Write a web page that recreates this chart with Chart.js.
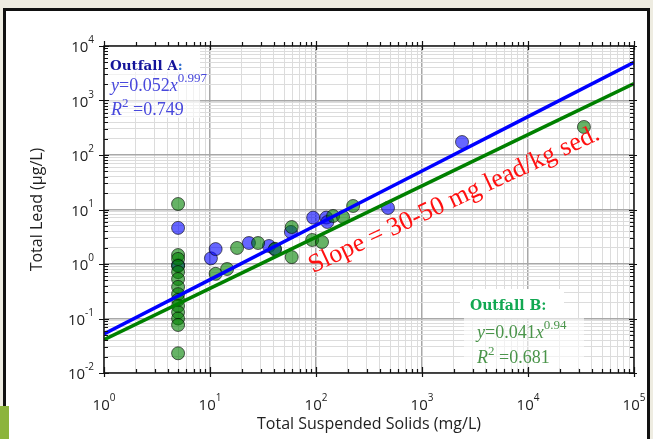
<!DOCTYPE html>
<html>
<head>
<meta charset="utf-8">
<script src="https://cdn.jsdelivr.net/npm/chart.js@4/dist/chart.umd.min.js"></script>
<style>
  html, body { margin: 0; padding: 0; background: #eeece1; overflow: hidden; }
  #wrap { position: relative; width: 653px; height: 439px; }
  #panel { position: absolute; left: 3px; top: 8px; width: 641px; height: 440px; background: #fff; border: 3px solid #111; }
  #accent { position: absolute; left: 0; top: 406px; width: 9px; height: 33px; background: #8cb43c; }
  canvas { position: absolute; left: 0; top: 0; }
</style>
</head>
<body>
<div id="wrap">
  <div id="panel"></div>
  <canvas id="c" width="653" height="439"></canvas>
  <div id="accent"></div>
</div>
<script>
// Outfall A: total suspended solids (mg/L) and total lead (µg/L)
const tssA  = [5, 5, 10.2, 11.3, 23.3, 36, 41, 58, 94, 125, 128, 478, 2385];
const leadA = [4.6, 0.95, 1.27, 1.88, 2.43, 2.14, 1.85, 3.87, 7.1, 7.1, 5.9, 10.7, 173];

// Outfall B
const tssB  = [5, 5, 5, 5, 5, 5, 5, 5, 5, 5, 5, 5, 5, 5,
               11.3, 14.5, 18, 28.4, 41, 59, 59, 92, 114, 145, 180, 224, 33700];
const leadB = [12.6, 1.46, 1.24, 0.92, 0.71, 0.53, 0.38, 0.28, 0.22, 0.17, 0.13, 0.10, 0.076, 0.023,
               0.66, 0.81, 1.97, 2.43, 1.9, 1.34, 4.77, 2.76, 2.53, 7.6, 7.3, 11.6, 327];

// Power-law fits  y = a * x^b
const fitA = { a: 0.052, b: 0.997, r2: '0.749' };
const fitB = { a: 0.041, b: 0.94,  r2: '0.681' };

// Axis decades (tick labels are 10^n)
const xDecades = [0, 1, 2, 3, 4, 5];
const yDecades = [-2, -1, 0, 1, 2, 3, 4];

function logGrid(decades) {
  const out = [];
  for (let i = 0; i < decades.length; i++) {
    const base = Math.pow(10, decades[i]);
    out.push({ value: base, major: true, exp: decades[i] });
    if (i < decades.length - 1) {
      for (let m = 2; m <= 9; m++) out.push({ value: m * base, major: false });
    }
  }
  return out;
}

const fitX = xDecades.map(d => Math.pow(10, d));
const lineA = fitX.map(x => ({ x, y: fitA.a * Math.pow(x, fitA.b) }));
const lineB = fitX.map(x => ({ x, y: fitB.a * Math.pow(x, fitB.b) }));

const SERIF = '"Liberation Serif", "Times New Roman", serif';
const SANS = '"Open Sans", "DejaVu Sans", sans-serif';

function drawRuns(ctx, x, y, runs) {
  let cx = x;
  for (const [t, font, dy] of runs) {
    ctx.font = font;
    ctx.fillText(t, cx, y + dy);
    cx += ctx.measureText(t).width;
  }
  return cx;
}

function eqRuns(fit) {
  const n = '18px ' + SERIF, it = 'italic 18px ' + SERIF, sm = '13px ' + SERIF;
  return [
    [['y', it, 0], ['=' + fit.a, n, 0], ['x', it, 0], [String(fit.b), sm, -9]],
    [['R', it, 0], ['2', sm, -8], [' =' + fit.r2, n, 0]]
  ];
}

const decor = {
  id: 'decor',
  beforeDatasetsDraw(chart) {
    const { ctx, chartArea: a } = chart;
    ctx.save();
    // label backgrounds
    ctx.fillStyle = '#ffffff';
    ctx.fillRect(a.left + 1, a.top + 1, 95, 25);
    ctx.fillStyle = 'rgba(255,255,255,0.6)';
    ctx.fillRect(a.left + 1, a.top + 26, 95, 46);
    ctx.fillStyle = '#ffffff';
    ctx.fillRect(a.left + 356, a.top + 243, 104, 29);
    ctx.fillStyle = 'rgba(255,255,255,0.6)';
    ctx.fillRect(a.left + 360, a.top + 272, 120, 50);
    ctx.restore();
  },
  afterDraw(chart) {
    const { ctx, chartArea: a, scales: { x, y } } = chart;
    ctx.save();

    // frame
    ctx.strokeStyle = '#111';
    ctx.lineWidth = 1.4;
    ctx.strokeRect(a.left, a.top, a.right - a.left, a.bottom - a.top);

    // tick marks
    ctx.lineWidth = 1.2;
    ctx.beginPath();
    x.ticks.forEach(t => {
      const px = Math.round(x.getPixelForValue(t.value)) + 0.5;
      if (t.major) {
        ctx.moveTo(px, a.bottom + 4); ctx.lineTo(px, a.bottom - 6);
        ctx.moveTo(px, a.top - 5); ctx.lineTo(px, a.top + 4);
      } else {
        ctx.moveTo(px, a.bottom); ctx.lineTo(px, a.bottom - 4);
        ctx.moveTo(px, a.top); ctx.lineTo(px, a.top - 4);
      }
    });
    y.ticks.forEach(t => {
      const py = Math.round(y.getPixelForValue(t.value)) + 0.5;
      if (t.major) {
        ctx.moveTo(a.left - 5, py); ctx.lineTo(a.left + 5, py);
        ctx.moveTo(a.right - 5, py); ctx.lineTo(a.right + 3, py);
      } else {
        ctx.moveTo(a.left, py); ctx.lineTo(a.left + 4, py);
        ctx.moveTo(a.right, py); ctx.lineTo(a.right - 4, py);
      }
    });
    ctx.stroke();

    // tick labels 10^n
    ctx.fillStyle = '#222';
    ctx.textBaseline = 'alphabetic';
    ctx.textAlign = 'left';
    const baseFont = '15px ' + SANS, expFont = '10px ' + SANS;
    x.ticks.filter(t => t.major).forEach(t => {
      const px = x.getPixelForValue(t.value);
      ctx.font = baseFont; const w1 = ctx.measureText('10').width;
      ctx.font = expFont; const w2 = ctx.measureText(String(t.exp)).width;
      const sx = px - (w1 + w2) / 2;
      drawRuns(ctx, sx, a.bottom + 37, [['10', baseFont, 0], [String(t.exp), expFont, -9]]);
    });
    y.ticks.filter(t => t.major).forEach(t => {
      const py = y.getPixelForValue(t.value);
      ctx.font = baseFont; const w1 = ctx.measureText('10').width;
      ctx.font = expFont; const w2 = ctx.measureText(String(t.exp)).width;
      const sx = a.left - 10 - w1 - w2;
      drawRuns(ctx, sx, py + 6, [['10', baseFont, 0], [String(t.exp), expFont, -9]]);
    });

    // axis titles
    ctx.font = '16px ' + SANS;
    ctx.textAlign = 'center';
    ctx.fillStyle = '#222';
    ctx.fillText('Total Suspended Solids (mg/L)', (a.left + a.right) / 2, a.bottom + 56);
    ctx.save();
    ctx.translate(42, (a.top + a.bottom) / 2);
    ctx.rotate(-Math.PI / 2);
    ctx.fillText('Total Lead (\u00b5g/L)', 0, 0);
    ctx.restore();

    // Outfall A labels
    ctx.textAlign = 'left';
    ctx.fillStyle = '#14149a';
    ctx.font = 'bold 13.5px "DejaVu Serif", serif';
    ctx.fillText('Outfall A', a.left + 6, a.top + 24);
    const wA = ctx.measureText('Outfall A').width;
    ctx.fillStyle = '#2f6fd0';
    ctx.fillText(':', a.left + 6 + wA, a.top + 24);
    ctx.fillStyle = '#4848dc';
    const ea = eqRuns(fitA);
    drawRuns(ctx, a.left + 7, a.top + 45, ea[0]);
    drawRuns(ctx, a.left + 7, a.top + 69, ea[1]);

    // Outfall B labels
    ctx.fillStyle = '#12a852';
    ctx.font = 'bold 14px "DejaVu Serif", serif';
    ctx.fillText('Outfall B:', a.left + 366, a.top + 264);
    ctx.fillStyle = '#4a944a';
    const eb = eqRuns(fitB);
    drawRuns(ctx, a.left + 373, a.top + 292, eb[0]);
    drawRuns(ctx, a.left + 373, a.top + 317, eb[1]);

    // slope note
    ctx.save();
    ctx.translate(a.left + 353, a.top + 160);
    ctx.rotate(-25 * Math.PI / 180);
    ctx.fillStyle = '#ff1010';
    ctx.font = '26px ' + SERIF;
    ctx.textAlign = 'center';
    ctx.fillText('Slope = 30-50 mg lead/kg sed.', 0, 0);
    ctx.restore();

    ctx.restore();
  }
};

const gridColor = c => (c.tick && c.tick.major) ? '#a8a8a8' : '#dcdcdc';
const gridWidth = c => (c.tick && c.tick.major) ? 1.5 : 1;

new Chart(document.getElementById('c').getContext('2d'), {
  type: 'scatter',
  data: {
    datasets: [
      {
        label: 'Outfall A',
        data: tssA.map((x, i) => ({ x, y: leadA[i] })),
        backgroundColor: 'rgba(0,0,255,0.6)',
        borderColor: 'rgba(0,0,0,0.6)',
        borderWidth: 1,
        pointRadius: 6.5,
        order: 4
      },
      {
        label: 'Outfall B',
        data: tssB.map((x, i) => ({ x, y: leadB[i] })),
        backgroundColor: 'rgba(0,128,0,0.6)',
        borderColor: 'rgba(0,0,0,0.6)',
        borderWidth: 1,
        pointRadius: 6.5,
        order: 3
      },
      {
        type: 'line',
        label: 'Fit A',
        data: lineA,
        borderColor: '#0000ff',
        borderWidth: 3.5,
        pointRadius: 0,
        fill: false,
        tension: 0,
        order: 2
      },
      {
        type: 'line',
        label: 'Fit B',
        data: lineB,
        borderColor: '#008000',
        borderWidth: 3.5,
        pointRadius: 0,
        fill: false,
        tension: 0,
        order: 1
      }
    ]
  },
  options: {
    responsive: false,
    animation: false,
    events: [],
    layout: { padding: { left: 104, right: 19, top: 46, bottom: 66 } },
    plugins: { legend: { display: false }, tooltip: { enabled: false } },
    scales: {
      x: {
        type: 'logarithmic', min: 1, max: 1e5,
        afterBuildTicks: s => { s.ticks = logGrid(xDecades); },
        afterFit: s => { s.height = 0; },
        ticks: { display: false },
        border: { display: false },
        grid: { drawTicks: false, color: gridColor, lineWidth: gridWidth }
      },
      y: {
        type: 'logarithmic', min: 0.01, max: 1e4,
        afterBuildTicks: s => { s.ticks = logGrid(yDecades); },
        afterFit: s => { s.width = 0; },
        ticks: { display: false },
        border: { display: false },
        grid: { drawTicks: false, color: gridColor, lineWidth: gridWidth }
      }
    }
  },
  plugins: [decor]
});
</script>
</body>
</html>
